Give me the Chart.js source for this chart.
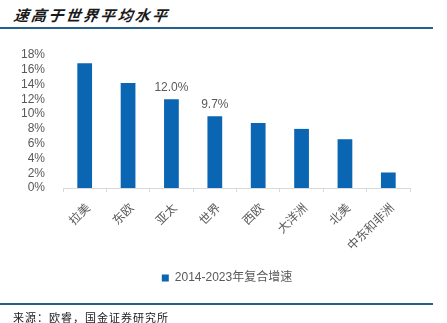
<!DOCTYPE html>
<html>
<head>
<meta charset="utf-8">
<script src="https://cdn.jsdelivr.net/npm/chart.js@4/dist/chart.umd.min.js"></script>
<style>
  html, body { margin: 0; padding: 0; background: #fff; }
  #wrap { position: relative; width: 447px; height: 323px; overflow: hidden; }
  #chart { position: absolute; left: 0; top: 0; }
  .title {
    position: absolute; left: 14px; top: 4px;
    font-family: "Noto Sans CJK SC", sans-serif; font-weight: bold; font-style: italic;
    font-size: 15px; letter-spacing: 2.3px; color: #1a1a1a; transform: skewX(-8deg);
  }
  .rule { position: absolute; left: 0; width: 433px; height: 2px; background: #255f8e; }
  .source {
    position: absolute; left: 13px; top: 309px;
    font-family: "Noto Sans CJK SC", sans-serif; font-size: 11px; letter-spacing: 1px; color: #1a1a1a;
  }
</style>
</head>
<body>
<div id="wrap">
  <div class="title">速高于世界平均水平</div>
  <div class="rule" style="top:27px"></div>
  <canvas id="chart" width="447" height="323"></canvas>
  <div class="rule" style="top:303px"></div>
  <div class="source">来源：欧睿，国金证券研究所</div>
</div>
<script>
// Regions and their 2014-2023 compound growth rates (%)
const regions = ['拉美', '东欧', '亚太', '世界', '西欧', '大洋洲', '北美', '中东和非洲'];
const growth = [16.9, 14.2, 12.0, 9.7, 8.8, 8.0, 6.6, 2.1];
const seriesName = '2014-2023年复合增速';
// Bars that carry a value label
const annotated = ['亚太', '世界'];
// Y-axis range and step (%)
const yMin = 0, yMax = 18, yStep = 2;

const FONT = "'Liberation Sans', 'Noto Sans CJK SC', sans-serif";
const TEXT = '#595959';
const BLUE = '#0a66b2';

// Writes the value above each annotated bar
const valueLabels = {
  id: 'valueLabels',
  afterDatasetsDraw(chart) {
    const ctx = chart.ctx;
    const meta = chart.getDatasetMeta(0);
    ctx.save();
    ctx.font = '12px ' + FONT;
    ctx.fillStyle = TEXT;
    ctx.textAlign = 'center';
    ctx.textBaseline = 'alphabetic';
    meta.data.forEach((bar, i) => {
      if (!annotated.includes(regions[i])) return;
      ctx.fillText(growth[i].toFixed(1) + '%', bar.x, bar.y - 8);
    });
    ctx.restore();
  }
};

// Centres the legend under the whole page rather than under the plot box
const legendShift = {
  id: 'legendShift',
  afterUpdate(chart) {
    const lg = chart.legend;
    if (!lg) return;
    const dx = 22;
    lg.left += dx;
    lg.right += dx;
    (lg.legendHitBoxes || []).forEach(b => { b.left += dx; });
  }
};

new Chart(document.getElementById('chart'), {
  type: 'bar',
  data: {
    labels: regions,
    datasets: [{
      label: seriesName,
      data: growth,
      backgroundColor: BLUE,
      borderWidth: 0,
      barPercentage: 0.34,
      categoryPercentage: 1.0
    }]
  },
  options: {
    responsive: false,
    animation: false,
    devicePixelRatio: 1,
    layout: { padding: { top: 55, right: 37, bottom: 29, left: 0 } },
    plugins: {
      legend: {
        position: 'bottom',
        labels: {
          boxWidth: 7, boxHeight: 7, padding: 10,
          color: TEXT, font: { family: FONT, size: 12 }
        }
      },
      tooltip: { enabled: false }
    },
    scales: {
      x: {
        grid: {
          display: true, drawOnChartArea: false, drawTicks: true,
          tickLength: 4, color: '#d9d9d9', offset: true
        },
        border: { display: true, color: '#d9d9d9', width: 1 },
        ticks: {
          color: TEXT, font: { family: FONT, size: 12 },
          minRotation: 45, maxRotation: 45, padding: 9, labelOffset: 4
        },
        afterFit(scale) { scale.height = 74; }
      },
      y: {
        min: yMin, max: yMax,
        grid: { display: false },
        border: { display: false },
        ticks: {
          stepSize: yStep, padding: 10, autoSkip: false,
          color: TEXT, font: { family: FONT, size: 12 },
          callback: v => v + '%'
        },
        afterFit(scale) { scale.width = 63; }
      }
    }
  },
  plugins: [valueLabels, legendShift]
});
</script>
</body>
</html>
